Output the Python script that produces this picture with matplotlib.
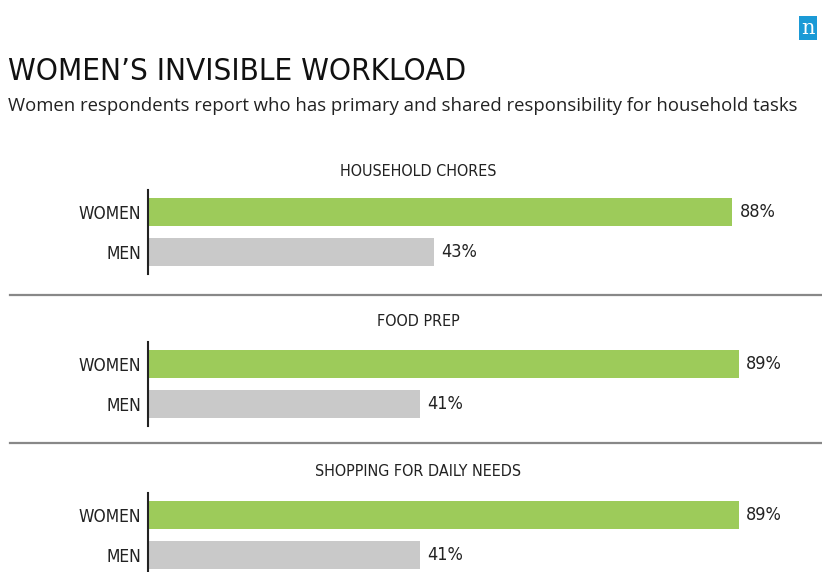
import matplotlib
matplotlib.use("Agg")
import matplotlib.pyplot as plt

# data
tasks = ["HOUSEHOLD CHORES", "FOOD PREP", "SHOPPING FOR DAILY NEEDS"]
groups = ["WOMEN", "MEN"]
women = [88, 89, 89]
men = [43, 41, 41]

GREEN = "#9dcb5a"
GREY = "#c9c9c9"
INK = "#222222"
NARROW = dict(family="DejaVu Sans", stretch="condensed")

W, H = 822, 572
fig = plt.figure(figsize=(W / 100, H / 100), dpi=100)

# title block
fig.text(8 / W, 1 - 72 / H, "WOMEN\u2019S INVISIBLE WORKLOAD", **NARROW,
         fontsize=22.5, color="#111111", va="center", ha="left")
fig.text(8 / W, 1 - 106 / H,
         "Women respondents report who has primary and shared responsibility for household tasks",
         family="Open Sans", fontsize=13.35, color=INK, va="center", ha="left")

# little logo
fig.text(808 / W, 1 - 28 / H, "n", family="DejaVu Serif", fontsize=15, color="white",
         ha="center", va="center",
         bbox=dict(boxstyle="square,pad=0.12", fc="#1b9ad6", ec="none"))

# one axes per task, women bar centre in pixels
centres = [212, 364, 515]
headers = [172, 322, 471]
seps = [295, 443]

for i, task in enumerate(tasks):
    top = centres[i] - 0.55 * 40
    bottom = top + 84
    ax = fig.add_axes([148 / W, (H - bottom) / H, 664 / W, 84 / H])
    vals = [women[i], men[i]]
    ax.barh([0, 1], vals, height=0.7, color=[GREEN, GREY], zorder=2)
    ax.set_xlim(0, 100)
    ax.set_ylim(1.55, -0.55)
    for s in ["top", "right", "bottom"]:
        ax.spines[s].set_visible(False)
    ax.spines["left"].set_linewidth(1.5)
    ax.spines["left"].set_color(INK)
    ax.set_xticks([])
    ax.set_yticks([0, 1])
    ax.set_yticklabels(groups, **NARROW, fontsize=12.5, color=INK)
    ax.tick_params(axis="y", length=0, pad=5)
    for y, v in enumerate(vals):
        ax.text(v + 1.1, y, f"{v}%", **NARROW, fontsize=13, color=INK,
                va="center", ha="left")
    fig.text(418 / W, 1 - headers[i] / H, task, **NARROW, fontsize=11.5,
             color=INK, ha="center", va="center")

for y in seps:
    fig.add_artist(plt.Line2D([10 / W, 1], [1 - y / H, 1 - y / H],
                              color="#888888", linewidth=1.6))

fig.savefig("out.png", dpi=100, facecolor="white")
